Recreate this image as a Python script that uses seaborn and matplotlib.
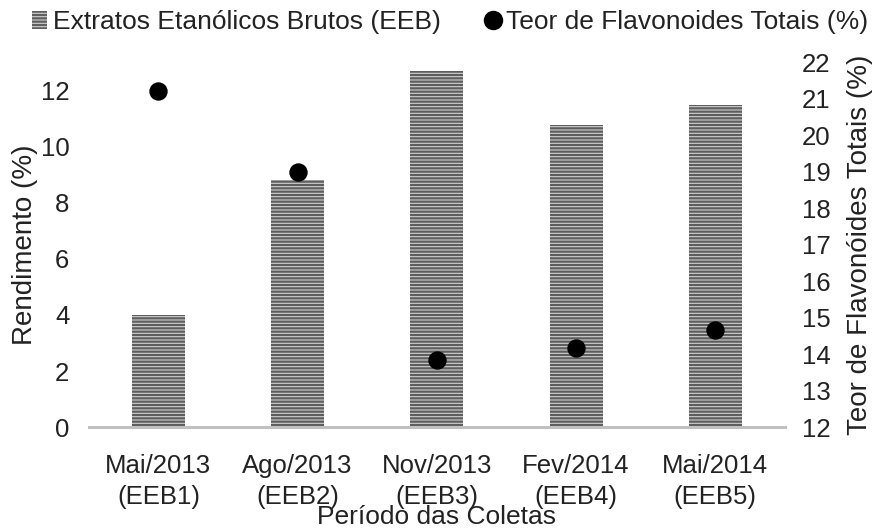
import matplotlib
matplotlib.use("Agg")
import matplotlib.pyplot as plt
import seaborn as sns
import pandas as pd
from matplotlib.patches import Patch
from matplotlib.lines import Line2D

# data
periodos = ["Mai/2013\n(EEB1)", "Ago/2013\n(EEB2)", "Nov/2013\n(EEB3)",
            "Fev/2014\n(EEB4)", "Mai/2014\n(EEB5)"]
rendimento = [4.0, 8.8, 12.7, 10.76, 11.46]
flavonoides = [21.22, 18.98, 13.84, 14.18, 14.65]

sns.set_theme(style="white")
plt.rcParams['font.family'] = ['Liberation Sans', 'DejaVu Sans']
plt.rcParams['hatch.linewidth'] = 1.6

df = pd.DataFrame({'Periodo': periodos, 'Rendimento': rendimento,
                   'Flavonoides': flavonoides})

fig = plt.figure(figsize=(8.79, 5.32), dpi=100)
ax = fig.add_axes([0.101, 0.197, 0.792, 0.686])

bar_face = '#cfcfcf'
bar_hatch = '#5e5e5e'
sns.barplot(data=df, x='Periodo', y='Rendimento', ax=ax, color=bar_face,
            width=0.38, linewidth=0)
for p in ax.patches:
    p.set_hatch('-----')
    p.set_edgecolor(bar_hatch)

ax2 = ax.twinx()
sns.scatterplot(data=df, x='Periodo', y='Flavonoides', ax=ax2, color='black',
                s=175, edgecolor='black', linewidth=0, zorder=5)

ax.set_xlim(-0.5, 4.5)
ax.set_ylim(0, 13)
ax.set_yticks(range(0, 13, 2))
ax2.set_ylim(12, 22)
ax2.set_yticks(range(12, 23, 1))

txt = '#222222'
fs = 18.5
ax.tick_params(axis='x', labelsize=fs, length=0, pad=19, colors=txt)
ax.tick_params(axis='y', labelsize=fs, length=0, pad=14, colors=txt)
ax2.tick_params(axis='y', labelsize=fs, length=0, pad=12, colors=txt)
for lab in ax.get_xticklabels():
    lab.set_linespacing(1.4)
ax.set_xlabel('Período das Coletas', fontsize=19, color=txt, va='top')
ax.xaxis.set_label_coords(0.5, -0.213)
ax.set_ylabel('Rendimento (%)', fontsize=20, color=txt, labelpad=2)
ax2.set_ylabel('Teor de Flavonóides Totais (%)', fontsize=20, color=txt, labelpad=12)
ax2.set_xlabel('')

for a in (ax, ax2):
    for s in ('top', 'left', 'right'):
        a.spines[s].set_visible(False)
ax.spines['bottom'].set_color('#c0c0c0')
ax.spines['bottom'].set_linewidth(2.2)
ax2.spines['bottom'].set_visible(False)

handles = [Patch(facecolor=bar_face, edgecolor=bar_hatch, hatch='-----', linewidth=0),
           Line2D([], [], marker='o', color='black', linestyle='none', markersize=13)]
labels = ['Extratos Etanólicos Brutos (EEB)', 'Teor de Flavonoides Totais (%)']
fig.legend(handles, labels, loc='upper center', bbox_to_anchor=(0.512, 1.025), ncol=2,
           frameon=False, fontsize=19, handlelength=0.6, handletextpad=0.2,
           columnspacing=1.7, labelcolor=txt)

fig.savefig('out.png', dpi=100)
